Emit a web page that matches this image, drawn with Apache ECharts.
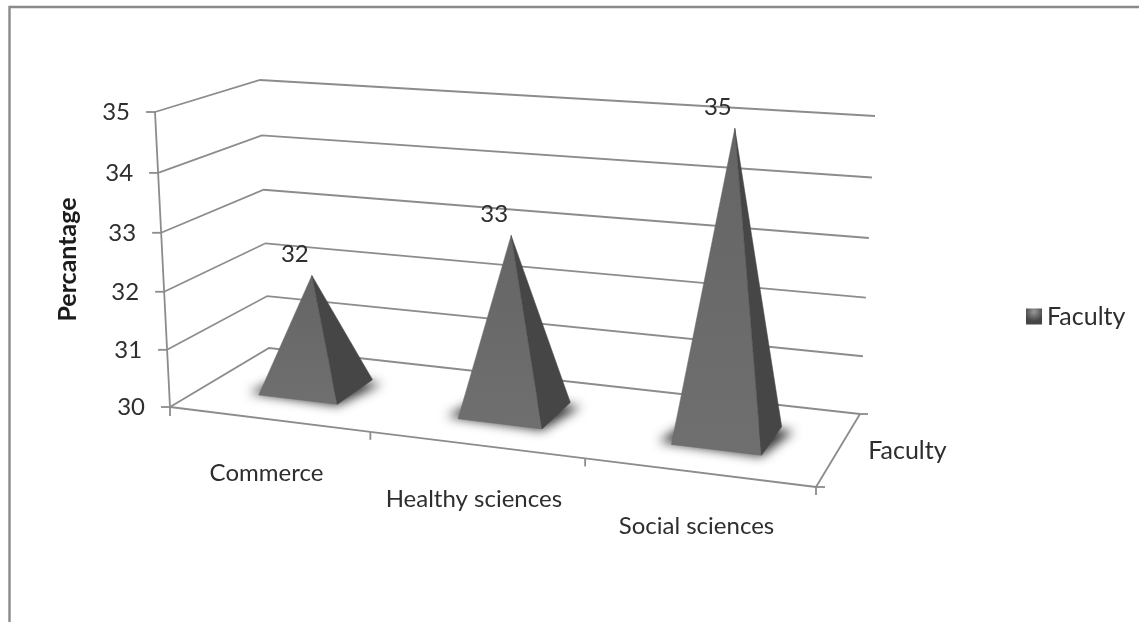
<!DOCTYPE html>
<html>
<head>
<meta charset="utf-8">
<style>html,body{margin:0;padding:0;background:#fff}#chart{width:1139px;height:622px}</style>
<script src="https://cdn.jsdelivr.net/npm/echarts@6/dist/echarts.min.js"></script>
</head>
<body>
<div id="chart"></div>
<script>
// Faculty percentages
const categories = ['Commerce', 'Healthy sciences', 'Social sciences'];
const values = [32, 33, 35];
const valueTicks = [30, 31, 32, 33, 34, 35];
const seriesName = 'Faculty';
const axisTitle = 'Percantage';

// Corners of the 3D box in page pixels: front-left, front-right, back-right, back-left
const floorQuad = [[170, 407], [816, 487], [860, 414], [269, 348]];
const ceilingQuad = [[155, 112], [838, 159], [875, 116], [260, 80]];
const heightPerspective = 0.04;
const pyramidHalfWidth = 0.067;
const pyramidHalfDepth = 0.2;
const SHADOW_SHIFT = 3000;

const TEXT = '#2e2e2e';
const LINE = '#8c8c8c';
const FONT = 'Lato';
const FONT_SIZE = 24;
const NAME_SIZE = 25;

// Maps the unit square onto a four-sided figure
function quadMap(q) {
  const dx1 = q[1][0] - q[2][0], dx2 = q[3][0] - q[2][0], sx = q[0][0] - q[1][0] + q[2][0] - q[3][0];
  const dy1 = q[1][1] - q[2][1], dy2 = q[3][1] - q[2][1], sy = q[0][1] - q[1][1] + q[2][1] - q[3][1];
  const den = dx1 * dy2 - dx2 * dy1;
  const g = (sx * dy2 - dx2 * sy) / den, h = (dx1 * sy - sx * dy1) / den;
  const a = q[1][0] - q[0][0] + g * q[1][0], b = q[3][0] - q[0][0] + h * q[3][0];
  const d = q[1][1] - q[0][1] + g * q[1][1], e = q[3][1] - q[0][1] + h * q[3][1];
  return (u, v) => {
    const w = g * u + h * v + 1;
    return [(a * u + b * v + q[0][0]) / w, (d * u + e * v + q[0][1]) / w];
  };
}
const floorAt = quadMap(floorQuad);
const ceilingAt = quadMap(ceilingQuad);

// u runs along the category axis, d into the depth, h up the value axis
function project(u, d, h) {
  const f = floorAt(u, d), c = ceilingAt(u, d);
  const t = h / (1 + heightPerspective * (1 - h));
  return [f[0] + (c[0] - f[0]) * t, f[1] + (c[1] - f[1]) * t];
}

// Reads a data pair through the hidden cartesian axes as unit-box fractions
function toUnit(params, api, cat, val) {
  const p = api.coord([cat, val]);
  const cs = params.coordSys;
  return { u: (p[0] - cs.x) / cs.width, h: (cs.y + cs.height - p[1]) / cs.height };
}

function seg(a, b, width) {
  return {
    type: 'line', silent: true,
    shape: { x1: a[0], y1: a[1], x2: b[0], y2: b[1] },
    style: { stroke: LINE, lineWidth: width || 1.8 }
  };
}
function label(text, x, y, align, size) {
  return {
    type: 'text', silent: true,
    style: { text: String(text), x, y, align: align || 'center', verticalAlign: 'middle', fill: TEXT, fontFamily: FONT, fontSize: size || FONT_SIZE }
  };
}

// Walls: one gridline per value tick, its axis tick and its label
function renderValueTick(params, api) {
  const val = api.value(1);
  const { h } = toUnit(params, api, 0, val);
  const fl = project(0, 0, h), bl = project(0, 1, h), br = project(1, 1, h);
  const kids = [
    { type: 'polyline', silent: true, shape: { points: [fl, bl, br] }, style: { stroke: LINE, lineWidth: 1.8, fill: null } },
    seg(fl, [fl[0] - 9, fl[1]]),
    label(val, fl[0] - 25, fl[1], 'right')
  ];
  if (val < 35) kids.push(seg(fl, project(0, 0, h + 0.2)));
  return { type: 'group', children: kids };
}

// Floor: front edge, right edge, category ticks and labels
function renderCategory(params, api) {
  const i = api.value(0);
  const { u } = toUnit(params, api, i, 30);
  const half = api.size([1, 0])[0] / params.coordSys.width / 2;
  const a = project(u - half, 0, 0), b = project(u + half, 0, 0), m = project(u, 0, 0);
  const kids = [
    seg(a, b),
    seg(b, [b[0], b[1] + 8]),
    label(categories[i], m[0] - 2, m[1] + 54)
  ];
  if (i === 0) {
    kids.push(seg(a, [a[0], a[1] + 9]));
  }
  if (i === categories.length - 1) {
    const back = project(1, 1, 0), mid = project(1, 0.5, 0);
    kids.push(seg(b, back));
    kids.push(seg(b, [b[0] + 9, b[1]]));
    kids.push(seg(back, [back[0] + 8, back[1]]));
    kids.push(label(seriesName, mid[0] + 29, mid[1] + 2, 'left', NAME_SIZE));
  }
  return { type: 'group', children: kids };
}

// One pyramid: soft floor shadow, lit front face, darker side face
function renderPyramid(params, api) {
  const { u, h } = toUnit(params, api, api.value(0), api.value(1));
  const x0 = u - pyramidHalfWidth, x1 = u + pyramidHalfWidth;
  const z0 = 0.5 - pyramidHalfDepth, z1 = 0.5 + pyramidHalfDepth;
  const fl = project(x0, z0, 0), fr = project(x1, z0, 0), br = project(x1, z1, 0), bl = project(x0, z1, 0);
  const apex = project(u, 0.5, h);
  // The caster sits off the canvas so that only its blurred shadow lands on the floor
  const caster = [project(x0 - 0.022, z0 + 0.03, 0), fr, project(x1 + 0.02, z1 - 0.03, 0), bl]
    .map(p => [p[0] - SHADOW_SHIFT, p[1]]);
  return {
    type: 'group',
    children: [
      {
        type: 'polygon', silent: true,
        shape: { points: caster },
        style: { fill: '#000', shadowBlur: 11, shadowColor: 'rgba(0,0,0,0.8)', shadowOffsetX: SHADOW_SHIFT, shadowOffsetY: 1 }
      },
      {
        type: 'polygon', silent: true,
        shape: { points: [fl, fr, apex] },
        style: {
          fill: new echarts.graphic.LinearGradient(0, 0, 0, 1, [{ offset: 0, color: '#656565' }, { offset: 1, color: '#6f6f6f' }]),
          stroke: '#6b6b6b', lineWidth: 0.5
        }
      },
      {
        type: 'polygon', silent: true,
        shape: { points: [fr, br, apex] },
        style: { fill: '#464646', stroke: '#464646', lineWidth: 0.5 }
      },
      label(api.value(1), apex[0] - 17, apex[1] - 21)
    ]
  };
}

const chart = echarts.init(document.getElementById('chart'), null, { renderer: 'canvas' });
chart.setOption({
  animation: false,
  backgroundColor: '#ffffff',
  textStyle: { fontFamily: FONT },
  grid: { left: 155, top: 112, width: 660, height: 295 },
  xAxis: { type: 'category', data: categories, show: false },
  yAxis: {
    type: 'value', min: 30, max: 35, interval: 1,
    name: axisTitle, nameLocation: 'middle', nameRotate: 90, nameGap: 75,
    nameTextStyle: { fontFamily: FONT, fontWeight: 'bold', fontSize: 25, color: '#1c1c1c' },
    axisLine: { show: false }, axisTick: { show: false }, axisLabel: { show: false }, splitLine: { show: false }
  },
  legend: {
    data: [seriesName], left: 1026, top: 304, padding: 0,
    itemWidth: 16, itemHeight: 16, itemGap: 0,
    icon: 'rect',
    textStyle: { fontFamily: FONT, fontSize: NAME_SIZE, color: TEXT, padding: [0, 0, 0, 0] }
  },
  graphic: [{
    type: 'polyline', silent: true,
    shape: { points: [[9.5, 622], [9.5, 7], [1139, 7]] },
    style: { stroke: '#8a8a8a', lineWidth: 2.4, fill: null }
  }],
  series: [
    {
      type: 'custom', name: 'value ticks', silent: true, clip: false, z: 1,
      renderItem: renderValueTick,
      data: valueTicks.map(v => [0, v])
    },
    {
      type: 'custom', name: 'categories', silent: true, clip: false, z: 1,
      renderItem: renderCategory,
      data: categories.map((c, i) => [i, 30])
    },
    {
      type: 'custom', name: seriesName, silent: true, clip: false, z: 2,
      itemStyle: {
        color: new echarts.graphic.RadialGradient(0.5, 0.2, 0.6, [
          { offset: 0, color: '#9a9a9a' }, { offset: 0.55, color: '#6a6a6a' }, { offset: 1, color: '#454545' }
        ])
      },
      renderItem: renderPyramid,
      data: categories.map((c, i) => [i, values[i]])
    }
  ]
});
</script>
</body>
</html>
